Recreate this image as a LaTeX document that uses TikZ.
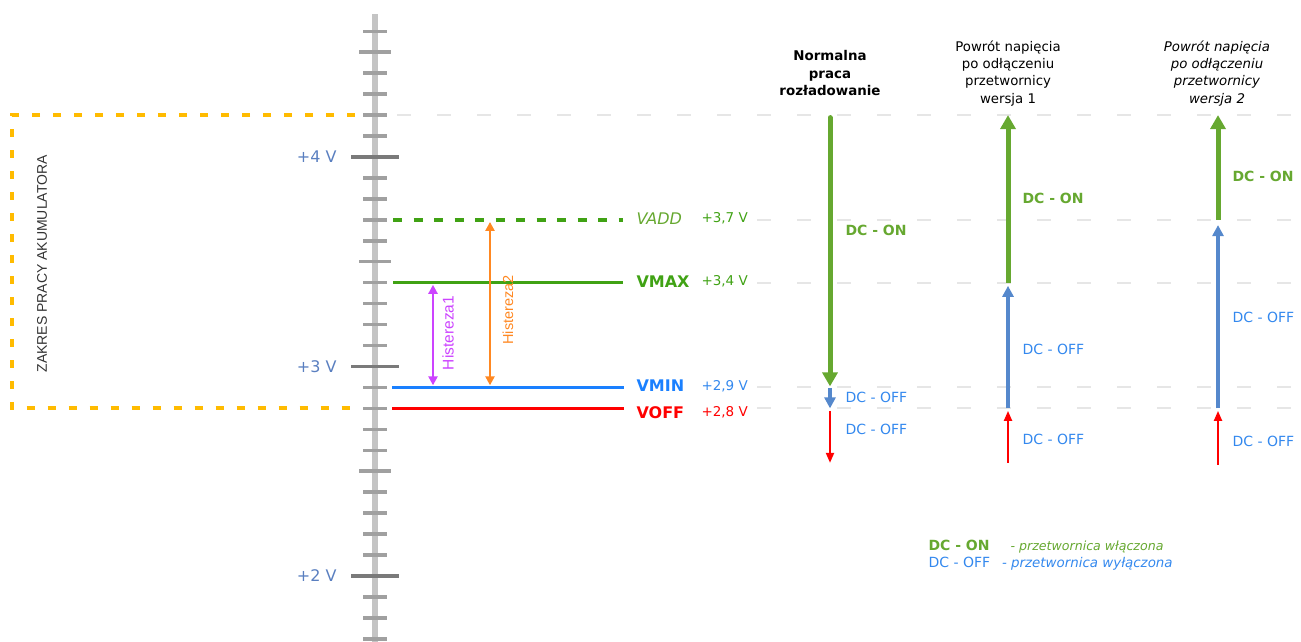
\documentclass[tikz,border=0pt]{standalone}
\usepackage{fontspec}
\setmainfont{DejaVu Sans}
\newfontfamily\arialfont{Liberation Sans}
\usetikzlibrary{arrows.meta}

\definecolor{lvlgreen}{RGB}{64,162,20}
\definecolor{dcgreen}{RGB}{102,168,48}
\definecolor{lvlblue}{RGB}{26,128,255}
\definecolor{dcblue}{RGB}{51,136,238}
\definecolor{arrblue}{RGB}{85,136,204}
\definecolor{boxorange}{RGB}{255,187,0}
\definecolor{hystorange}{RGB}{255,136,34}
\definecolor{hystpurple}{RGB}{204,68,255}
\definecolor{axisgray}{RGB}{196,196,196}
\definecolor{tickgray}{RGB}{160,160,160}
\definecolor{majorgray}{RGB}{122,122,122}
\definecolor{voltblue}{RGB}{90,127,192}
\definecolor{gridgray}{RGB}{230,230,230}

\begin{document}
\begin{tikzpicture}[
  x=1pt,
  y=209.5pt,
  font=\fontsize{14}{17}\selectfont,
  lvlname/.style={anchor=west, font=\fontsize{16}{18}\selectfont\bfseries},
  lvlval/.style={anchor=west, font=\fontsize{13.5}{16}\selectfont},
  dcon/.style={anchor=west, dcgreen, font=\fontsize{14}{17}\selectfont\bfseries},
  dcoff/.style={anchor=west, dcblue, font=\fontsize{14}{17}\selectfont},
  greenarr/.style={dcgreen, line width=5pt, -{Triangle[length=14pt,width=15pt]}},
  bluearr/.style={arrblue, line width=3.5pt, -{Triangle[length=11pt,width=11pt]}},
  redarr/.style={red, line width=2pt, -{Triangle[length=10pt,width=8pt]}},
  gridline/.style={gridgray, line width=2pt, dash pattern=on 14pt off 26pt}
]
\useasboundingbox (0,1.685) rectangle (1301,4.7494);

% voltage scale
\draw[axisgray, line width=6pt] (375,4.682) -- (375,1.6);
\foreach \i in {17,...,46}
  \draw[tickgray, line width=3.5pt] (363,{\i/10}) -- (387,{\i/10});
\foreach \v in {2.5,3.5,4.5}
  \draw[tickgray, line width=3.5pt] (359,\v) -- (391,\v);
\foreach \v/\txt in {2/+2 V,3/+3 V,4/+4 V} {
  \draw[majorgray, line width=3.5pt] (351,\v) -- (399,\v);
  \node[anchor=east, voltblue, font=\fontsize{16}{18}\selectfont] (volt\v) at (340,\v) {\txt};
}

% battery range
\draw[boxorange, line width=4pt, dash pattern=on 8pt off 13pt] (355,4.2) -- (12,4.2) -- (12,2.8) -- (355,2.8);
\node[rotate=90, black!80, font=\arialfont\fontsize{14}{16}\selectfont] (zakres) at (42,3.49) {ZAKRES PRACY AKUMULATORA};

% guide lines
\draw[gridline] (397,4.2) -- (1301,4.2);
\foreach \v in {3.7,3.4,2.9,2.8}
  \draw[gridline] (757,\v) -- (1301,\v);

% thresholds
\draw[lvlgreen, line width=3.5pt, dash pattern=on 9pt off 11.5pt] (393,3.7) -- (623,3.7);
\draw[lvlgreen, line width=3.5pt] (393,3.4) -- (623,3.4);
\draw[lvlblue, line width=3.5pt] (392,2.9) -- (624,2.9);
\draw[red, line width=3.5pt] (392,2.8) -- (624,2.8);

\node[lvlname, dcgreen, font=\fontsize{16}{18}\selectfont\itshape] (vadd) at (633,3.7) [yshift=1.5pt] {VADD};
\node[lvlname, lvlgreen] (vmax) at (633,3.4) [yshift=1.5pt] {VMAX};
\node[lvlname, lvlblue] (vmin) at (633,2.9) [yshift=1.5pt] {VMIN};
\node[lvlname, red] (voff) at (633,2.8) [yshift=-4pt] {VOFF};
\node[lvlval, lvlgreen] (vaddval) at (698,3.7) [yshift=1.5pt] {+3,7 V};
\node[lvlval, lvlgreen] (vmaxval) at (698,3.4) [yshift=1.5pt] {+3,4 V};
\node[lvlval, dcblue] (vminval) at (698,2.9) [yshift=1.5pt] {+2,9 V};
\node[lvlval, red] (voffval) at (698,2.8) [yshift=-4pt] {+2,8 V};

% hysteresis
\draw[hystpurple, line width=2.5pt, {Triangle[length=9pt,width=9pt]}-{Triangle[length=9pt,width=9pt]}] (433,2.91) -- (433,3.39);
\draw[hystorange, line width=2.5pt, {Triangle[length=9pt,width=9pt]}-{Triangle[length=9pt,width=9pt]}] (490,2.91) -- (490,3.69);
\node[rotate=90, hystpurple, font=\arialfont\fontsize{15.5}{17}\selectfont] (hist1) at (448,3.16) {Histereza1};
\node[rotate=90, hystorange, font=\arialfont\fontsize{14.5}{16}\selectfont] (hist2) at (508,3.27) {Histereza2};

% normal discharge
\node[align=center, font=\fontsize{13.4}{17.3}\selectfont\bfseries] (head1) at (830,4.40) {Normalna\\praca\\rozładowanie};
\draw[greenarr, line cap=round] (830,4.188) -- (830,2.905);
\draw[bluearr] (830,2.895) -- (830,2.8);
\draw[redarr] (830,2.788) -- (830,2.54);
\node[dcon] (c1on) at (842,3.65) {DC - ON};
\node[dcoff] (c1off) at (842,2.852) {DC - OFF};
\node[dcoff] (c1offb) at (842,2.70) {DC - OFF};

% recovery v1
\node[align=center, font=\fontsize{13.3}{17.3}\selectfont] (head2) at (1008,4.40) {Powrót napięcia\\po odłączeniu\\przetwornicy\\wersja 1};
\draw[redarr] (1008,2.54) -- (1008,2.788);
\draw[bluearr] (1008,2.8) -- (1008,3.385);
\draw[greenarr] (1008,3.4) -- (1008,4.2);
\node[dcon] (c2on) at (1019,3.80) {DC - ON};
\node[dcoff] (c2off) at (1019,3.083) {DC - OFF};
\node[dcoff] (c2offb) at (1019,2.652) {DC - OFF};

% recovery v2
\node[align=center, font=\fontsize{13.3}{17.3}\selectfont\itshape] (head3) at (1217,4.40) {Powrót napięcia\\po odłączeniu\\przetwornicy\\wersja 2};
\draw[redarr] (1218,2.53) -- (1218,2.788);
\draw[bluearr] (1218,2.8) -- (1218,3.675);
\draw[greenarr] (1218,3.7) -- (1218,4.2);
\node[dcon] (c3on) at (1229,3.905) {DC - ON};
\node[dcoff] (c3off) at (1229,3.236) {DC - OFF};
\node[dcoff] (c3offb) at (1229,2.642) {DC - OFF};

% legend
\node[anchor=base west, dcgreen, font=\fontsize{14}{17}\selectfont\bfseries] (legon) at (925,2.1236) {DC - ON};
\node[anchor=base west, dcgreen, font=\fontsize{12.6}{17}\selectfont\itshape] (legontxt) at (1007,2.1236) {- przetwornica włączona};
\node[anchor=base west, dcblue] (legoff) at (925,2.041) {DC - OFF};
\node[anchor=base west, dcblue, font=\fontsize{13.4}{17}\selectfont\itshape] (legofftxt) at (998.5,2.041) {- przetwornica wyłączona};
\end{tikzpicture}
\end{document}
